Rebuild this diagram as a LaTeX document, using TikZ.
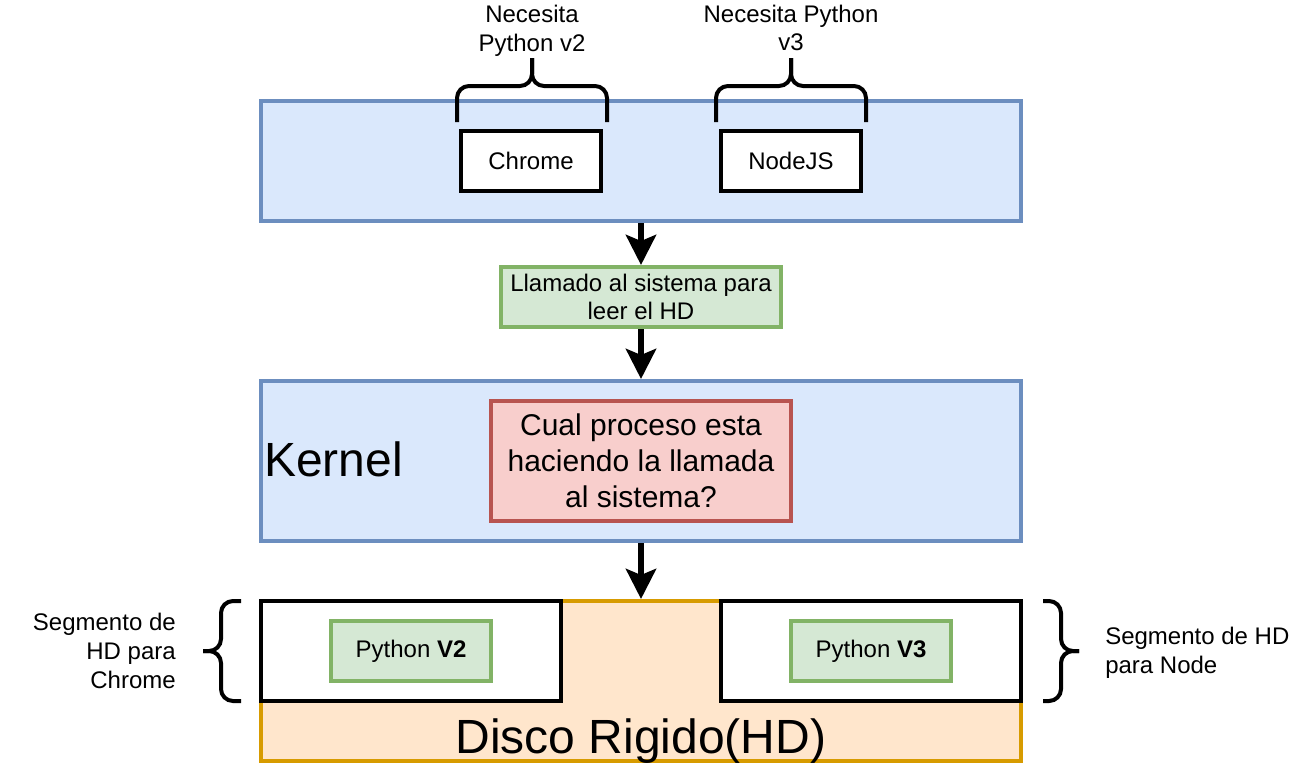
\documentclass[tikz,border=0pt]{standalone}
\usepackage{fontspec}
\setmainfont{Liberation Sans}
\usetikzlibrary{arrows.meta}
\definecolor{azulfondo}{HTML}{DAE8FC}
\definecolor{azulborde}{HTML}{6C8EBF}
\definecolor{verdefondo}{HTML}{D5E8D4}
\definecolor{verdeborde}{HTML}{82B366}
\definecolor{rojofondo}{HTML}{F8CECC}
\definecolor{rojoborde}{HTML}{B85450}
\definecolor{naranjafondo}{HTML}{FFE6CC}
\definecolor{naranjaborde}{HTML}{D79B00}

\begin{document}
\begin{tikzpicture}[
		x=0.75pt, y=-0.75pt,
		every node/.style={font=\fontsize{18}{21.6}\selectfont, align=center, inner sep=0pt},
		caja/.style={rectangle, draw, line width=3pt},
		azul/.style={caja, draw=azulborde, fill=azulfondo, minimum width=570pt},
		verde/.style={caja, draw=verdeborde, fill=verdefondo, minimum height=45pt},
		blanca/.style={caja, draw=black, fill=white},
		flecha/.style={line width=4.5pt, -{Stealth[length=22.5pt, width=22.5pt, inset=4.5pt]}},
		llave/.style={line width=3pt, rounded corners=9pt}
	]
  \useasboundingbox (0,0) rectangle (1302,768);
  \node (app) [azul, minimum height=90pt] at (641,161) {};
  \node (chrome) [blanca, minimum width=105pt, minimum height=45pt] at (531,161) {Chrome};
  \node (nodejs) [blanca, minimum width=105pt, minimum height=45pt] at (791,161) {NodeJS};
  \node (llamada) [verde, minimum width=210pt] at (641,297) {Llamado al sistema para\\leer el HD};
  \node (kernel) [azul, minimum height=120pt] at (641,461) {};
  \node (proceso) [caja, draw=rojoborde, fill=rojofondo, minimum width=225pt, minimum height=90pt,
    font=\fontsize{22.5}{27}\selectfont] at (641,461) {Cual proceso esta\\haciendo la llamada\\al sistema?};
  \node (kernel_label) [anchor=base west, font=\fontsize{36}{43.2}\selectfont] at (264,476) {Kernel};
  \node (disco) [caja, draw=naranjaborde, fill=naranjafondo, minimum width=570pt, minimum height=120pt] at (641,681) {};
  \node (seg_v2) [blanca, minimum width=225pt, minimum height=75pt] at (411,651) {};
  \node (seg_v3) [blanca, minimum width=225pt, minimum height=75pt] at (871,651) {};
  \node (py_v2) [verde, minimum width=120pt] at (411,651) {Python \textbf{V2}};
  \node (py_v3) [verde, minimum width=120pt] at (871,651) {Python \textbf{V3}};
  \node (disco_label) [anchor=base, font=\fontsize{36}{43.2}\selectfont] at (641,753) {Disco Rigido(HD)};
  \node (nec_v2) at (532,31) {Necesita\\Python v2};
  \node (nec_v3) at (791,28) {Necesita Python\\v3};
  \node (seg_chrome) [anchor=east, align=right] at (176,651) {Segmento de\\HD para\\Chrome};
  \node (seg_node) [anchor=west, align=left] at (1105,653) {Segmento de HD\\para Node};
  \draw [flecha] (app) -- (llamada);
  \draw [flecha] (llamada) -- (kernel);
  \draw [flecha] (kernel) -- (disco);
  \draw [llave] (457,122) |- (532,86) -- (532,58);
  \draw [llave] (607,122) |- (532,86) -- (532,58);
  \draw [llave] (716,122) |- (791,86) -- (791,58);
  \draw [llave] (866,122) |- (791,86) -- (791,58);
  \draw [llave] (241,601) -| (221,651) -- (203,651);
  \draw [llave] (241,701) -| (221,651) -- (203,651);
  \draw [llave] (1043,601) -| (1061,651) -- (1079,651);
  \draw [llave] (1043,701) -| (1061,651) -- (1079,651);
\end{tikzpicture}
\end{document}
